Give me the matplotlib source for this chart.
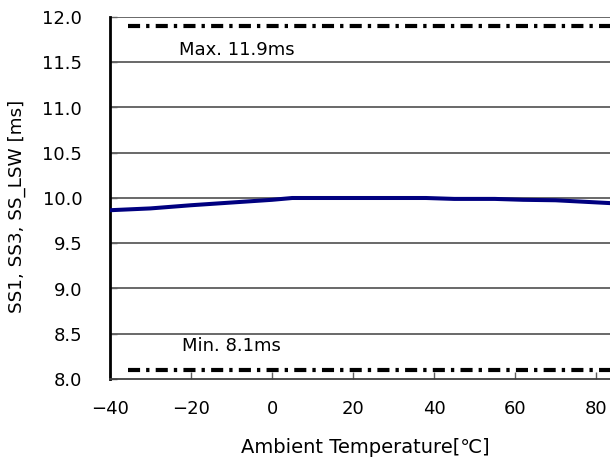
import matplotlib
matplotlib.use("Agg")
import matplotlib.pyplot as plt

plt.rcParams['font.family'] = ['DejaVu Sans', 'Noto Sans CJK JP']

# data
temps = [-40, -30, -20, -10, 0, 5, 25, 38, 45, 55, 62, 70, 85]
ss_ms = [9.865, 9.885, 9.92, 9.95, 9.98, 10.0, 10.0, 10.0, 9.99, 9.99, 9.98, 9.975, 9.94]
max_ms = 11.9
min_ms = 8.1
limit_x = [-35.6, 100]
x_ticks = [-40, -20, 0, 20, 40, 60, 80, 100]
y_ticks = [8.0, 8.5, 9.0, 9.5, 10.0, 10.5, 11.0, 11.5, 12.0]

W, H = 610, 461
fig = plt.figure(figsize=(W / 100, H / 100), dpi=100)
# axes runs to 100 degC, the reference is cropped at the right
ax = fig.add_axes([110 / W, (H - 379) / H, (677 - 110) / W, (379 - 17) / H])

ax.set_xlim(-40, 100)
ax.set_ylim(8.0, 12.0)
ax.set_xticks(x_ticks)
ax.set_yticks(y_ticks)
ax.set_yticklabels([f"{v:.1f}" for v in y_ticks])

for v in y_ticks[1:]:
    ax.axhline(v, color='#404040', lw=1.1, zorder=1)

ax.plot(temps, ss_ms, color='#000080', lw=2.9, zorder=3)

for v in (max_ms, min_ms):
    ax.plot(limit_x, [v, v], color='black', lw=3.0, zorder=2,
            dashes=(2.9, 1.45, 0.8, 1.5), solid_capstyle='butt', dash_capstyle='butt')

ax.text(-8.6, 11.635, "Max. 11.9ms", fontsize=13, ha='center', va='center')
ax.text(-10.1, 8.36, "Min. 8.1ms", fontsize=13, ha='center', va='center')

for s in ('top', 'right'):
    ax.spines[s].set_visible(False)
ax.spines['left'].set_color('black')
ax.spines['left'].set_linewidth(2)
ax.spines['bottom'].set_color('#404040')
ax.spines['bottom'].set_linewidth(1.3)

ax.tick_params(axis='both', direction='in', length=5, width=1, color='#606060',
               labelsize=13)
ax.tick_params(axis='y', pad=20)
ax.tick_params(axis='x', pad=15)

ax.set_xlabel("Ambient Temperature[℃]", fontsize=14, va='center')
ax.xaxis.set_label_coords(0.45, -0.188)
ax.set_ylabel("SS1, SS3, SS_LSW [ms]", fontsize=13.2, va='center')
ax.yaxis.set_label_coords(-0.164, 0.478)

fig.savefig("out.png", dpi=100)
